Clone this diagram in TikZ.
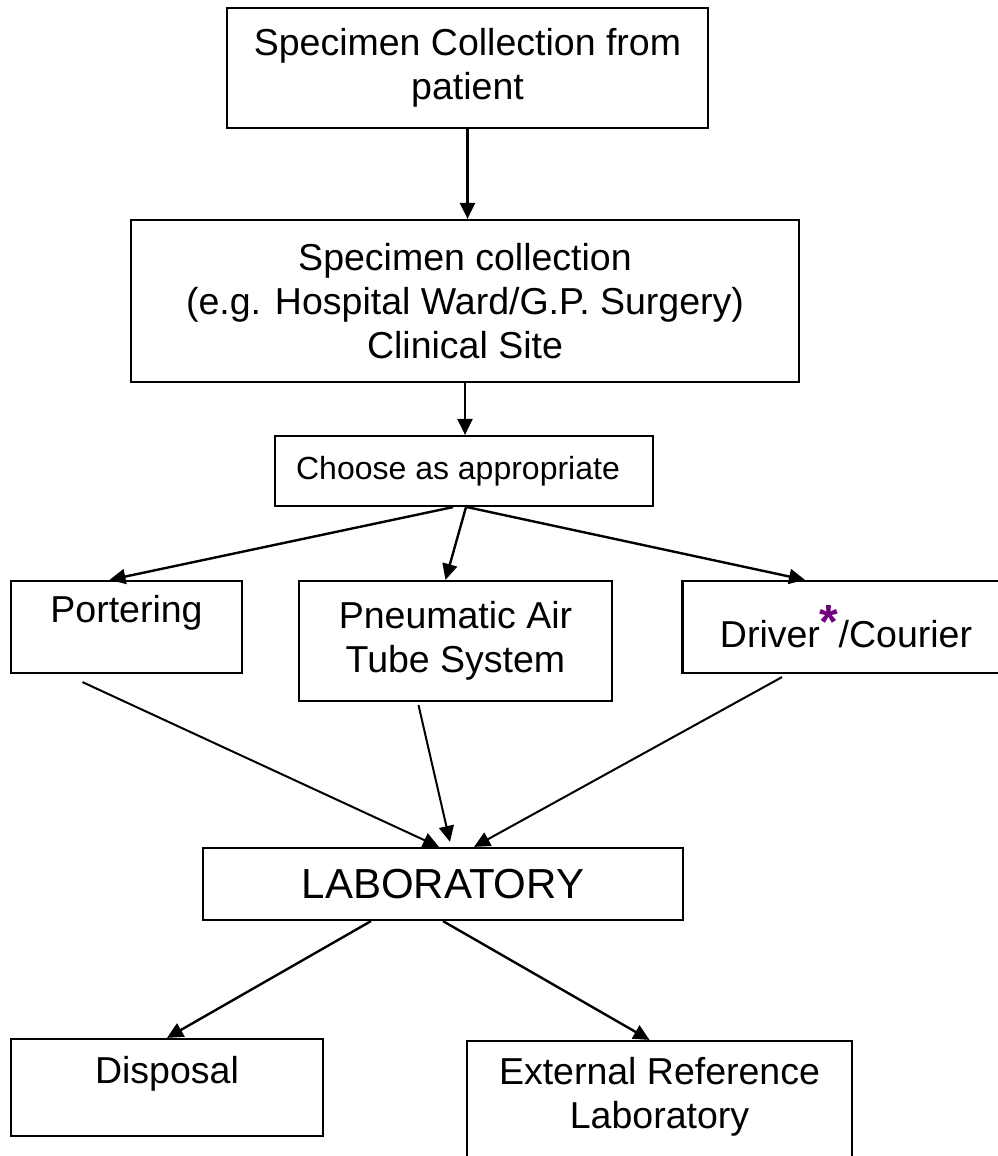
\documentclass[tikz,border=0pt]{standalone}
\usepackage{fontspec}
\setmainfont{Liberation Sans}
\usetikzlibrary{arrows.meta}
\definecolor{starpurple}{RGB}{112,0,128}
\newcommand{\drvstar}{\textcolor{starpurple}{\raisebox{9pt}{\fontsize{48}{48}\selectfont\bfseries *}}}

\tikzset{
  box/.style={draw, line width=2.2pt, align=center, inner sep=0pt,
    font=\fontsize{37.5}{44}\selectfont},
  textup/.style={text depth=#1},
}

\begin{document}
\begin{tikzpicture}[x=1pt,y=-1pt,line width=2.4pt,>={Triangle[length=16pt,width=15pt]}]
      \useasboundingbox (0,0) rectangle (997,1156);

      \node [box,minimum width=481pt,minimum height=120pt] (patient) at (467.5,68) {Specimen Collection from\\patient};
      \node [box,minimum width=668pt,minimum height=162pt] (clinical) at (465,301) {Specimen collection\\(e.g. Hospital Ward/G.P. Surgery)\\Clinical Site};
      \node [box,minimum width=378pt,minimum height=70pt,font=\fontsize{32}{38}\selectfont] (choose) at (464,471) {Choose as appropriate\hspace{12pt}};

      \node [box,minimum width=231pt,minimum height=92pt,textup=36pt] (portering) at (126.5,627) {Portering};
      \node [box,minimum width=313pt,minimum height=120pt] (pneumatic) at (455.5,641) {Pneumatic Air\\Tube System};
      \node [box,minimum width=327pt,minimum height=92pt] (driver) at (846,627) {Driver\drvstar/Courier};

      \node [box,minimum width=480pt,minimum height=72pt,font=\fontsize{42}{48}\selectfont] (lab) at (443,884) {LABORATORY};

      \node [box,minimum width=312pt,minimum height=97pt,textup=36pt] (disposal) at (167,1087.5) {Disposal};
      \node [box,minimum width=385pt,minimum height=140pt,textup=36pt] (external) at (659.5,1111) {External Reference\\Laboratory};

      \draw[->] (patient.south) -- (patient.south |- clinical.north);
      \draw[->] (clinical.south) -- (clinical.south |- choose.north);
      \draw[->] ([xshift=-11pt]choose.south) -- ([xshift=-17pt]portering.north);
      \draw[->] ([xshift=2pt]choose.south) -- ([xshift=-10pt]pneumatic.north);
      \draw[->] ([xshift=3pt]choose.south) -- ([xshift=-41pt]driver.north);

      \draw[->,line width=2pt] ([xshift=-44pt,yshift=-8pt]portering.south) -- ([xshift=-4pt]lab.north);
      \draw[->,line width=2pt] ([xshift=-37pt,yshift=-3pt]pneumatic.south) -- ([xshift=7pt,yshift=5pt]lab.north);
      \draw[->,line width=2pt] ([xshift=-64pt,yshift=-3pt]driver.south) -- ([xshift=31pt]lab.north);

      \draw[->] ([xshift=-72pt]lab.south) -- (disposal.north);
      \draw[->] (lab.south) -- ([xshift=-10pt]external.north);
    \end{tikzpicture}
\end{document}
